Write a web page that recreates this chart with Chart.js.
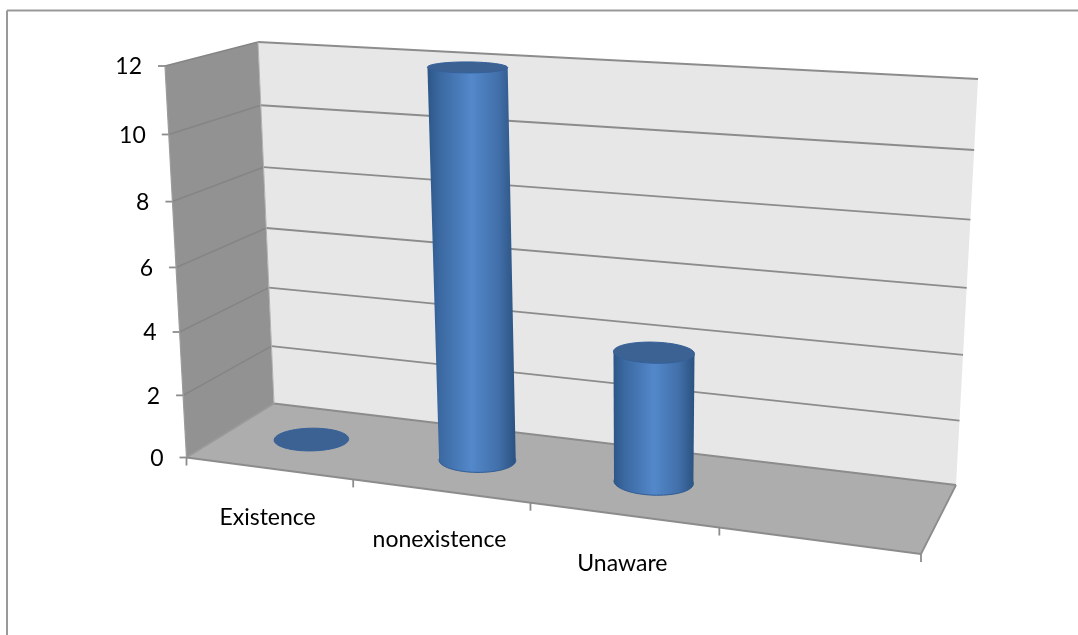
<!DOCTYPE html>
<html>
<head>
<meta charset="utf-8">
<script src="https://cdn.jsdelivr.net/npm/chart.js@4"></script>
<style>
html, body { margin: 0; padding: 0; background: #fff; }
canvas { display: block; }
</style>
</head>
<body>
<canvas id="myChart" width="1078" height="635"></canvas>
<script>
// chart values
var categories = ["Existence", "nonexistence", "Unaware", ""];
var seriesValues = [0, 12, 4, null];
var yMin = 0, yMax = 12, yStep = 2;

// corners of the 3d box on screen: front left, front right, back right, back left
var floorQuad = [[186.5, 457.5], [921, 554], [956, 485], [274, 403.5]];
var roofQuad = [[165, 66], [953.5, 112], [978, 79], [258, 42]];
var riseBend = 0.06; // upper grid gaps are a bit wider, like the original perspective

function quadMap(q) {
    var x0 = q[0][0], y0 = q[0][1], x1 = q[1][0], y1 = q[1][1];
    var x2 = q[2][0], y2 = q[2][1], x3 = q[3][0], y3 = q[3][1];
    var dx1 = x1 - x2, dx2 = x3 - x2, sx = x0 - x1 + x2 - x3;
    var dy1 = y1 - y2, dy2 = y3 - y2, sy = y0 - y1 + y2 - y3;
    var den = dx1 * dy2 - dx2 * dy1;
    var g = (sx * dy2 - dx2 * sy) / den, h = (dx1 * sy - sx * dy1) / den;
    var a = x1 - x0 + g * x1, b = x3 - x0 + h * x3;
    var d = y1 - y0 + g * y1, e = y3 - y0 + h * y3;
    return function (u, v) {
        var w = g * u + h * v + 1;
        return [(a * u + b * v + x0) / w, (d * u + e * v + y0) / w];
    };
}
var floorMap = quadMap(floorQuad), roofMap = quadMap(roofQuad);

// u along the categories, h up the value axis, d into the depth (all 0..1)
function project(u, h, d) {
    var p = floorMap(u, d), q = roofMap(u, d);
    var r = h / (1 + riseBend - riseBend * h);
    return [p[0] + (q[0] - p[0]) * r, p[1] + (q[1] - p[1]) * r];
}

function poly(ctx, pts, fill, stroke, lw) {
    ctx.beginPath();
    pts.forEach(function (p, i) { i ? ctx.lineTo(p[0], p[1]) : ctx.moveTo(p[0], p[1]); });
    ctx.closePath();
    if (fill) { ctx.fillStyle = fill; ctx.fill(); }
    if (stroke) { ctx.strokeStyle = stroke; ctx.lineWidth = lw || 1; ctx.stroke(); }
}

function line(ctx, a, b, color, lw) {
    ctx.beginPath();
    ctx.moveTo(a[0], a[1]);
    ctx.lineTo(b[0], b[1]);
    ctx.strokeStyle = color;
    ctx.lineWidth = lw;
    ctx.stroke();
}

var gridColor = "#8c8c8c";

var boxPlugin = {
    id: "box3d",
    beforeDatasetsDraw: function (chart) {
        var ctx = chart.ctx, ys = chart.scales.y, xs = chart.scales.x;
        var hOf = function (val) { return (ys.bottom - ys.getPixelForValue(val)) / ys.height; };

        // outer frame, only top and left show
        line(ctx, [7, 10.5], [1078, 10.5], "#999999", 2);
        line(ctx, [7, 10.5], [7, 635], "#999999", 2);

        // walls and floor
        poly(ctx, [project(0, 0, 0), project(0, 1, 0), project(0, 1, 1), project(0, 0, 1)], "#929292");
        poly(ctx, [project(0, 0, 1), project(0, 1, 1), project(1, 1, 1), project(1, 0, 1)], "#e7e7e7");
        poly(ctx, [project(0, 0, 0), project(0, 0, 1), project(1, 0, 1), project(1, 0, 0)], "#adadad");

        // grid lines and y ticks
        ys.ticks.forEach(function (t) {
            var h = hOf(t.value);
            line(ctx, project(0, h, 0), project(0, h, 1), t.value === 0 ? "#9a9a9a" : "#858585", 1.6);
            line(ctx, project(0, h, 1), project(1, h, 1), gridColor, 1.8);
            var a = project(0, h, 0);
            line(ctx, [a[0] - 7, a[1]], a, gridColor, 1.8);
        });
        line(ctx, project(0, 0, 0), project(0, 1, 0), "#9c9c9c", 1.2);
        line(ctx, project(0, 0, 1), project(0, 1, 1), "#b0b0b0", 1);
        line(ctx, project(1, 0, 1), project(1, 0, 0), gridColor, 1.8);
        line(ctx, project(0, 0, 0), project(1, 0, 0), gridColor, 1.8);

        // x ticks on the front floor edge
        var n = categories.length;
        for (var i = 0; i <= n; i++) {
            var p = project(i / n, 0, 0);
            line(ctx, p, [p[0], p[1] + 8], gridColor, 1.8);
        }

        // axis text
        ctx.font = "23px Lato, Carlito, sans-serif";
        ctx.fillStyle = "#000";
        ctx.textBaseline = "middle";
        ctx.textAlign = "right";
        ys.ticks.forEach(function (t) {
            var a = project(0, hOf(t.value), 0);
            ctx.fillText(t.label, a[0] - 23, a[1] + 1);
        });
        ctx.textAlign = "center";
        categories.forEach(function (c, i) {
            var u = (xs.getPixelForValue(i) - xs.left) / xs.width;
            var a = project(u, 0, 0);
            ctx.fillText(c, a[0] - 1, a[1] + 49);
        });
    },
    afterDatasetsDraw: function (chart) {
        var ctx = chart.ctx, xs = chart.scales.x, ys = chart.scales.y;
        chart.getDatasetMeta(0).data.forEach(function (bar, i) {
            if (seriesValues[i] === null) return;
            var u = (bar.x - xs.left) / xs.width;
            var h = (ys.bottom - bar.y) / ys.height;
            var ru = (bar.width / 2) / xs.width;
            var rd = 0.19;
            var bottom = [], top = [];
            for (var k = 0; k < 72; k++) {
                var t = k / 72 * Math.PI * 2;
                var cu = u + ru * Math.cos(t), cd = 0.5 + rd * Math.sin(t);
                bottom.push(project(cu, 0, cd));
                top.push(project(cu, h, cd));
            }
            if (h > 0) {
                var all = bottom.concat(top);
                var minX = Math.min.apply(null, all.map(function (p) { return p[0]; }));
                var maxX = Math.max.apply(null, all.map(function (p) { return p[0]; }));
                var g = ctx.createLinearGradient(minX, 0, maxX, 0);
                g.addColorStop(0, "#2c5688");
                g.addColorStop(0.14, "#3b69a1");
                g.addColorStop(0.5, "#5388cb");
                g.addColorStop(0.8, "#4270aa");
                g.addColorStop(1, "#2b5280");
                var edge = function (pts, wantMax) {
                    return pts.reduce(function (m, p) { return (wantMax ? p[0] > m[0] : p[0] < m[0]) ? p : m; });
                };
                poly(ctx, bottom, g, "#2f5c92", 1);
                poly(ctx, [edge(bottom, false), edge(top, false), edge(top, true), edge(bottom, true)], g);
            }
            poly(ctx, top, "#3b6292", "#36609a", 1);
        });
    }
};

new Chart(document.getElementById("myChart"), {
    type: "bar",
    plugins: [boxPlugin],
    data: {
        labels: categories,
        datasets: [{
            data: seriesValues,
            backgroundColor: "rgba(0,0,0,0)",
            categoryPercentage: 1,
            barPercentage: 0.42
        }]
    },
    options: {
        responsive: false,
        animation: false,
        layout: { padding: { left: 186, top: 66, right: 157, bottom: 177 } },
        plugins: { legend: { display: false }, tooltip: { enabled: false } },
        scales: {
            x: { ticks: { display: false }, grid: { display: false }, border: { display: false } },
            y: {
                min: yMin, max: yMax,
                ticks: { display: false, stepSize: yStep },
                grid: { display: false }, border: { display: false }
            }
        }
    }
});
</script>
</body>
</html>
